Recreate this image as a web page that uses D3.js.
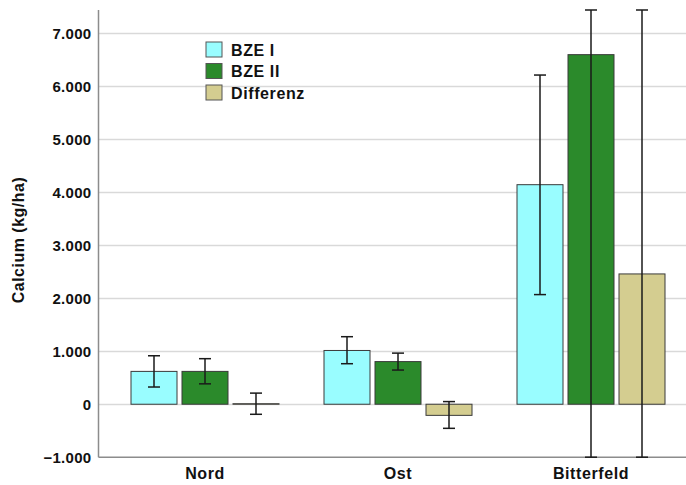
<!DOCTYPE html>
<html>
<head>
<meta charset="utf-8">
<script src="https://cdn.jsdelivr.net/npm/d3@7"></script>
<style>
  html, body { margin: 0; padding: 0; background: #fff; }
  svg { display: block; font-family: "Liberation Sans", Arial, sans-serif; }
</style>
</head>
<body>
<svg id="chart" width="686" height="485"></svg>
<script>
const categories = ["Nord", "Ost", "Bitterfeld"];
const seriesNames = ["BZE I", "BZE II", "Differenz"];
const seriesColors = ["#99fdff", "#2b8a2b", "#d4cd90"];

const bzeI = [620, 1015, 4145];
const bzeII = [620, 805, 6600];
const differenz = [10, -210, 2460];

const bzeILow = [325, 765, 2070];
const bzeIHigh = [915, 1275, 6215];
const bzeIILow = [385, 645, -2400];
const bzeIIHigh = [860, 965, 15600];
const diffLow = [-190, -455, -7000];
const diffHigh = [210, 50, 11900];

const yTicks = [-1000, 0, 1000, 2000, 3000, 4000, 5000, 6000, 7000];
const yDomain = [-1000, 7443];

const seriesValues = [bzeI, bzeII, differenz];
const seriesLow = [bzeILow, bzeIILow, diffLow];
const seriesHigh = [bzeIHigh, bzeIIHigh, diffHigh];

const rows = [];
categories.forEach((c, ci) => {
  seriesNames.forEach((s, si) => {
    rows.push({cat: c, series: s, si: si, value: seriesValues[si][ci], lo: seriesLow[si][ci], hi: seriesHigh[si][ci]});
  });
});

const svg = d3.select("#chart");
const plotLeft = 98.5, plotRight = 686, plotTop = 10, plotBottom = 457.2;

const y = d3.scaleLinear().domain(yDomain).range([plotBottom, plotTop]);
const x = d3.scaleBand().domain(categories).range([108.5, 687.5]);
const xs = d3.scaleBand().domain(seriesNames).range([22.5, 170.5]).paddingInner(5 / 51);

const loc = d3.formatLocale({decimal: ",", thousands: ".", grouping: [3], currency: ["", ""]});
const fmt = loc.format(",d");

// gridlines
svg.append("g").selectAll("line").data(yTicks.filter(t => t !== -1000)).join("line")
  .attr("x1", plotLeft).attr("x2", plotRight)
  .attr("y1", d => Math.round(y(d)) + 0.5).attr("y2", d => Math.round(y(d)) + 0.5)
  .attr("stroke", "#d9d9d9").attr("stroke-width", 1.5);

// y axis
const yAxis = svg.append("g").attr("transform", `translate(${plotLeft},0)`)
  .call(d3.axisLeft(y).tickValues(yTicks).tickFormat(fmt).tickSize(0).tickPadding(7));
yAxis.select(".domain").remove();
yAxis.selectAll("text").attr("font-size", 15).attr("font-weight", "bold").attr("fill", "#111")
  .attr("letter-spacing", "0.3px")
  .attr("font-family", "Liberation Sans, Arial, sans-serif");

// x axis
const xAxis = svg.append("g").attr("transform", `translate(0,${plotBottom})`)
  .call(d3.axisBottom(x).tickSize(0).tickPadding(10));
xAxis.select(".domain").remove();
xAxis.selectAll("text").attr("font-size", 16).attr("font-weight", "bold").attr("fill", "#111")
  .attr("letter-spacing", "0.6px")
  .attr("font-family", "Liberation Sans, Arial, sans-serif");

// axis lines
svg.append("line").attr("x1", plotLeft).attr("x2", plotLeft).attr("y1", plotTop).attr("y2", plotBottom)
  .attr("stroke", "#8c8c8c").attr("stroke-width", 1.5);
svg.append("line").attr("x1", plotLeft).attr("x2", plotRight).attr("y1", plotBottom).attr("y2", plotBottom)
  .attr("stroke", "#8c8c8c").attr("stroke-width", 1.5);

// bars
svg.append("g").selectAll("rect").data(rows).join("rect")
  .attr("x", d => x(d.cat) + xs(d.series))
  .attr("width", xs.bandwidth())
  .attr("y", d => Math.min(y(d.value), y(0)))
  .attr("height", d => Math.max(Math.abs(y(d.value) - y(0)), 0.5))
  .attr("fill", d => seriesColors[d.si])
  .attr("stroke", "#3a3a3a").attr("stroke-width", 1);

// error bars (clipped to axis range)
const clamp = v => Math.max(yDomain[0], Math.min(yDomain[1], v));
const eb = svg.append("g").attr("stroke", "#1a1a1a").attr("stroke-width", 1.5);
rows.forEach(d => {
  const cx = x(d.cat) + xs(d.series) + xs.bandwidth() / 2;
  const yl = y(clamp(d.lo)), yh = y(clamp(d.hi));
  eb.append("line").attr("x1", cx).attr("x2", cx).attr("y1", yl).attr("y2", yh);
  eb.append("line").attr("x1", cx - 6).attr("x2", cx + 6).attr("y1", yl).attr("y2", yl);
  eb.append("line").attr("x1", cx - 6).attr("x2", cx + 6).attr("y1", yh).attr("y2", yh);
});

// y axis title
svg.append("text")
  .attr("transform", `translate(24,240) rotate(-90)`)
  .attr("text-anchor", "middle")
  .attr("font-size", 16).attr("font-weight", "bold").attr("fill", "#111")
  .attr("letter-spacing", "0.5px")
  .text("Calcium (kg/ha)");

// legend
const leg = svg.append("g").attr("transform", "translate(206,42)");
seriesNames.forEach((s, i) => {
  const g = leg.append("g").attr("transform", `translate(0,${i * 21.5})`);
  g.append("rect").attr("width", 16).attr("height", 15)
    .attr("fill", seriesColors[i]).attr("stroke", "#555").attr("stroke-width", 1);
  g.append("text").attr("x", 25).attr("y", 13.5)
    .attr("font-size", 16).attr("font-weight", "bold").attr("fill", "#111")
    .attr("letter-spacing", "0.6px")
    .text(s);
});
</script>
</body>
</html>
